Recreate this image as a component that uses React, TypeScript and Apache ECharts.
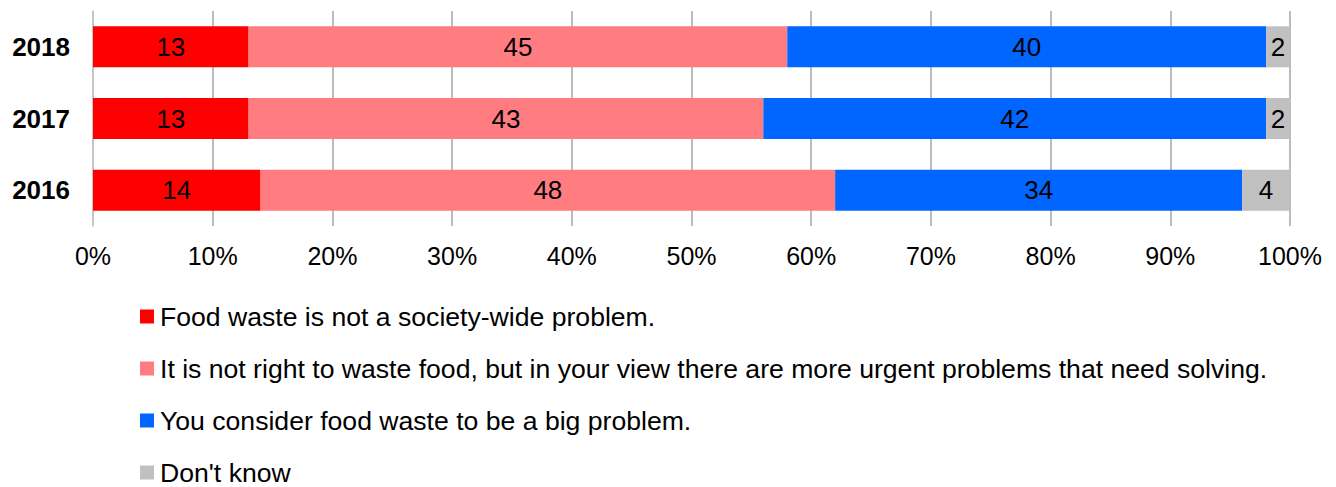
import React, { useEffect, useRef } from "react";
import * as echarts from "echarts";

const years = ["2016", "2017", "2018"];
const seriesNames = [
  "Food waste is not a society-wide problem.",
  "It is not right to waste food, but in your view there are more urgent problems that need solving.",
  "You consider food waste to be a big problem.",
  "Don't know",
];
const notProblem = [14, 13, 13];
const moreUrgent = [48, 43, 45];
const bigProblem = [34, 42, 40];
const dontKnow = [4, 2, 2];
const colors = ["#ff0000", "#ff7c80", "#0066ff", "#c0c0c0"];

export default function App() {
  const ref = useRef<HTMLDivElement>(null);
  useEffect(() => {
    if (!ref.current) return;
    const chart = echarts.init(ref.current, null, { renderer: "svg" });
    const values = [notProblem, moreUrgent, bigProblem, dontKnow];
    chart.setOption({
      animation: false,
      textStyle: { fontFamily: "Liberation Sans, Arial, sans-serif" },
      grid: { left: 93, right: 46, top: 11, height: 215, containLabel: false },
      xAxis: {
        type: "value",
        min: 0,
        max: 100,
        interval: 10,
        axisLabel: {
          formatter: "{value}%",
          fontSize: 25,
          color: "#000",
          margin: 17,
          fontFamily: "Liberation Sans, Arial, sans-serif",
        },
        splitLine: { show: true, lineStyle: { color: "#a6a6a6", width: 1.5 } },
        axisLine: { show: false },
        axisTick: { show: false },
      },
      yAxis: {
        type: "category",
        data: years,
        axisLabel: {
          fontSize: 26,
          fontWeight: "bold",
          color: "#000",
          margin: 23,
          fontFamily: "Liberation Sans, Arial, sans-serif",
        },
        axisLine: { show: true, lineStyle: { color: "#c8c8c8", width: 1.5 } },
        axisTick: { show: false },
      },
      legend: {
        orient: "vertical",
        left: 140,
        top: 303,
        height: 260,
        padding: 0,
        itemWidth: 14,
        itemHeight: 14,
        itemGap: 25,
        icon: "rect",
        textStyle: {
          fontSize: 26.6,
          lineHeight: 26,
          color: "#000",
          padding: [0, 0, 0, 1],
          fontFamily: "Liberation Sans, Arial, sans-serif",
        },
        data: seriesNames,
      },
      series: seriesNames.map((name, i) => ({
        name,
        type: "bar",
        stack: "total",
        barWidth: 41,
        data: values[i],
        itemStyle: { color: colors[i] },
        label: {
          show: true,
          position: "inside",
          color: "#000",
          fontSize: 26,
          fontFamily: "Liberation Sans, Arial, sans-serif",
        },
      })),
    });
    return () => chart.dispose();
  }, []);
  return (
    <div
      ref={ref}
      style={{ position: "absolute", left: 0, top: 0, width: 1336, height: 487 }}
    />
  );
}
